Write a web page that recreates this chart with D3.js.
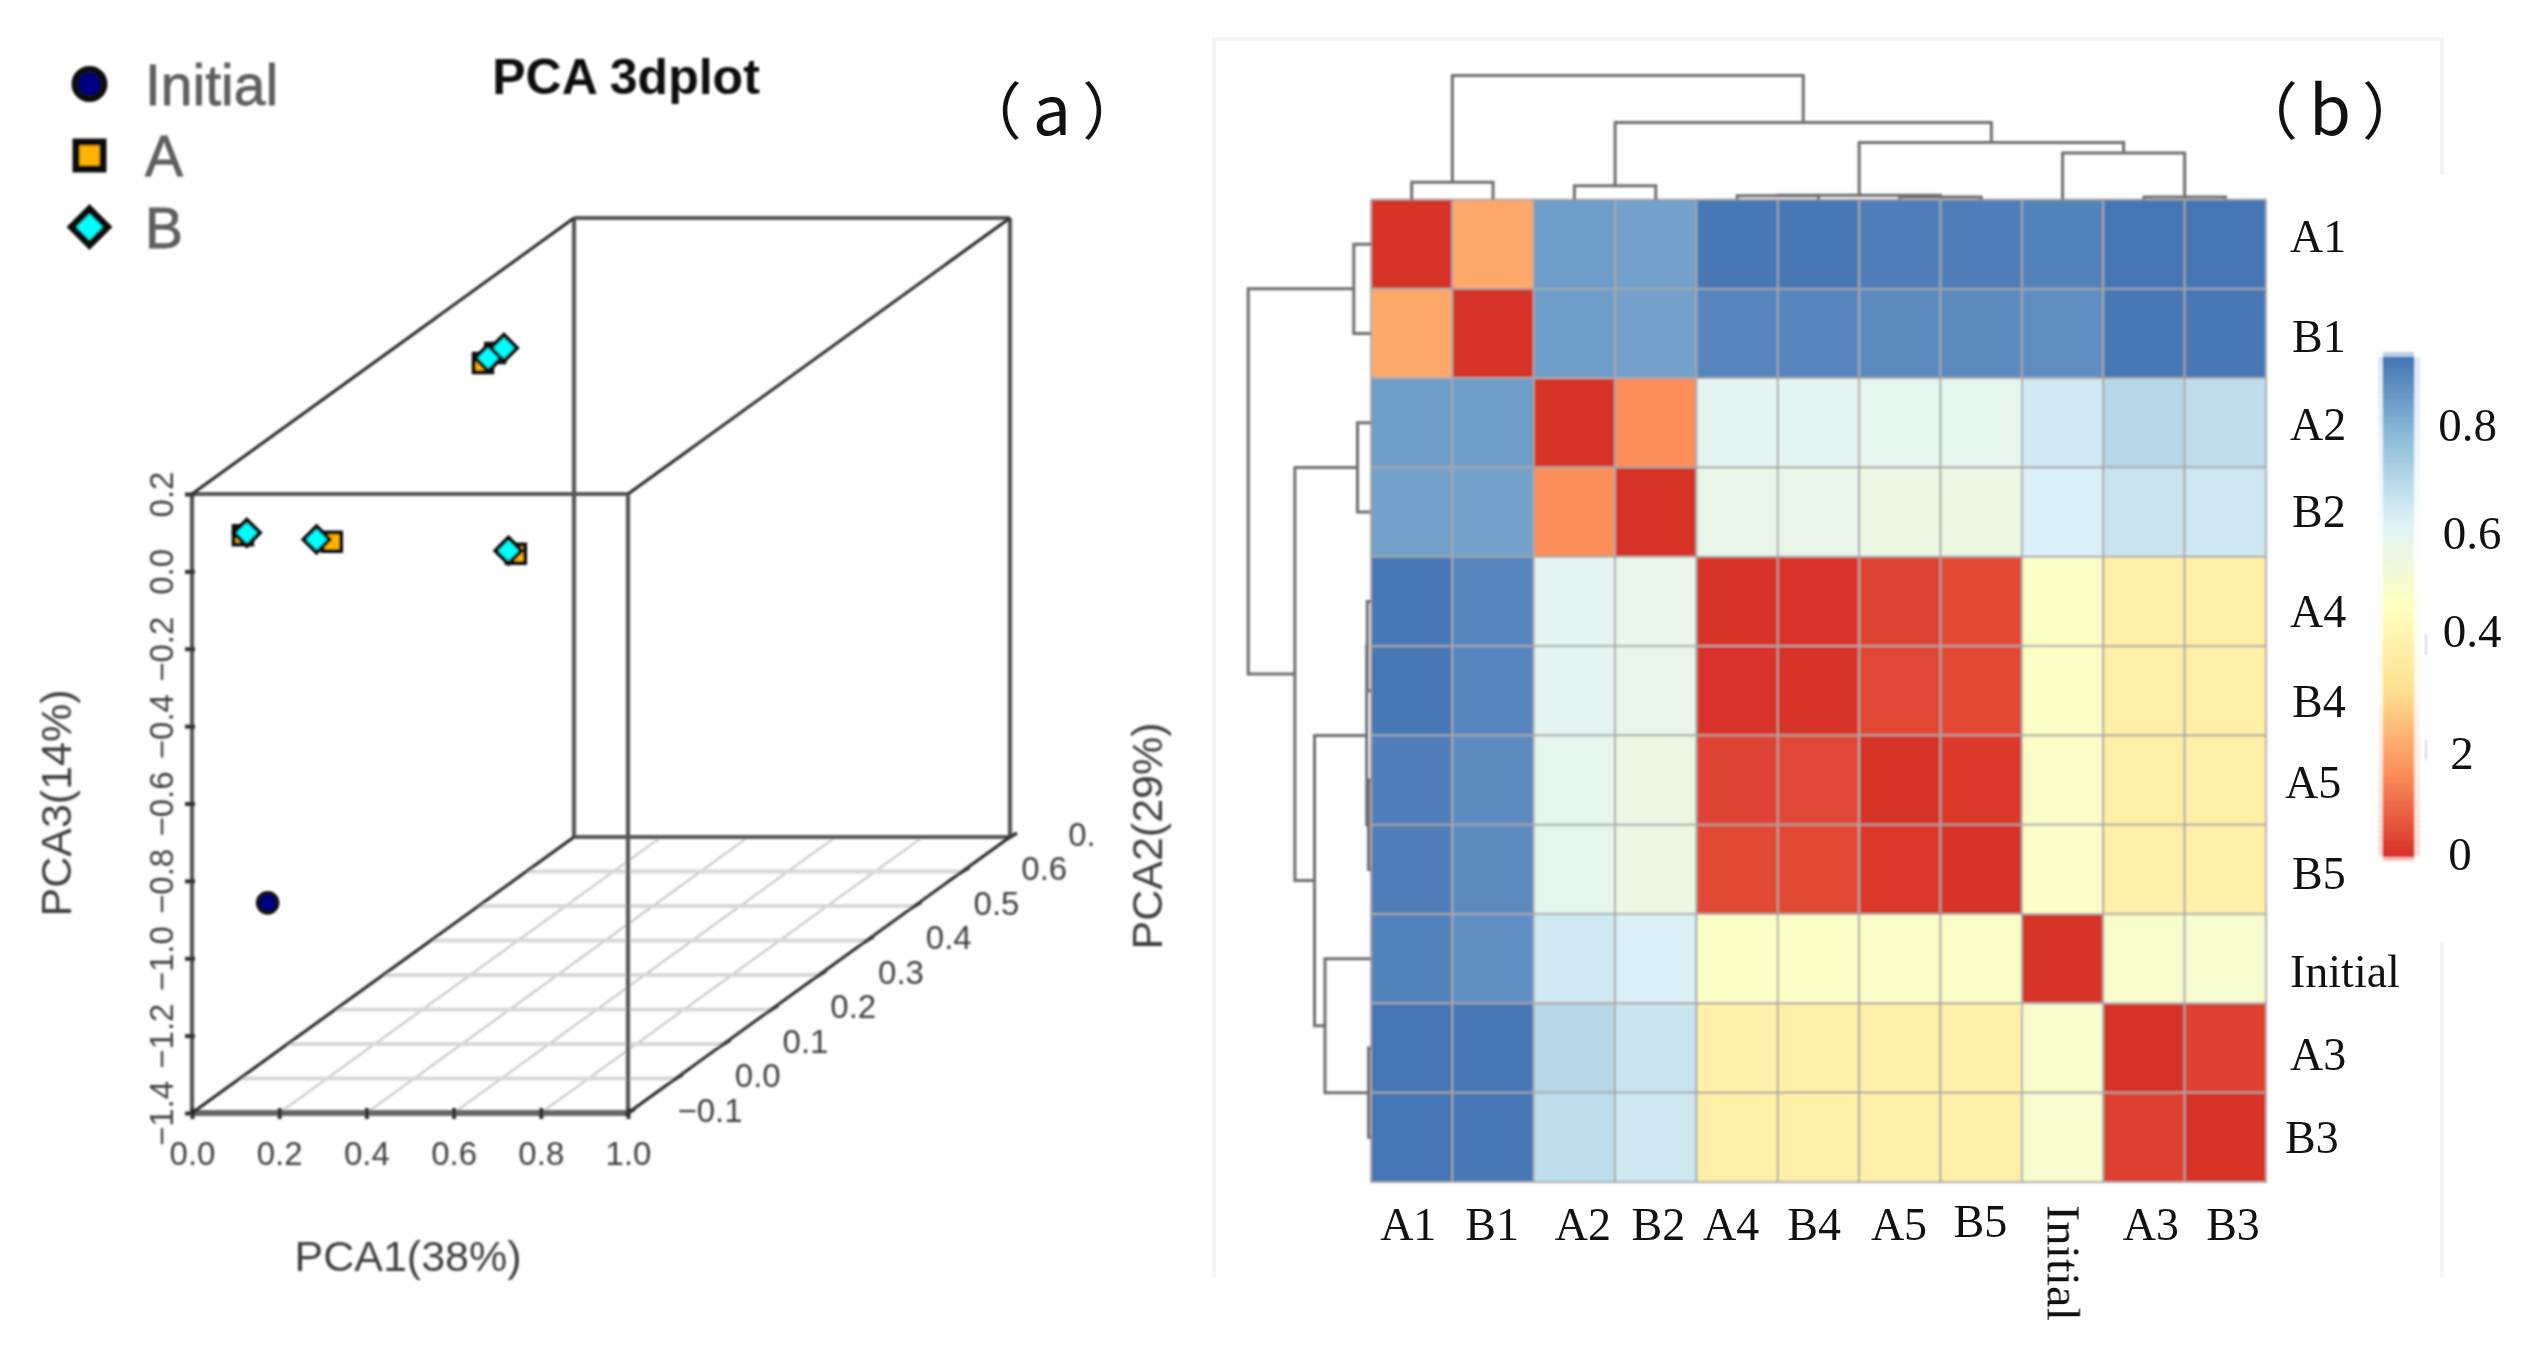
<!DOCTYPE html>
<html><head><meta charset="utf-8">
<script src="https://cdn.jsdelivr.net/npm/d3@7"></script>
<style>html,body{margin:0;padding:0;background:#fff}svg{display:block}text{text-spacing-trim:space-all}</style>
</head><body><svg id="c" width="2538" height="1356"></svg>
<script>
// ---- data: PCA panel
const pointGroup=["Initial","A","A","A","A","A","B","B","B","B","B"];
const pca1=[0.064,0.065,0.093,0.062,0.266,0.688,0.077,0.113,0.071,0.231,0.671];
const pca2=[0,0.45,0.45,-0.05,-0.05,-0.05,0.45,0.45,-0.05,-0.05,-0.05];
const pca3=[-0.946,0.048,0.074,0.049,0.032,0.001,0.061,0.087,0.055,0.038,0.009];
const legendItems=["Initial","A","B"];
const xTicks=[0,0.2,0.4,0.6,0.8,1];
const yTicks=[-0.1,0,0.1,0.2,0.3,0.4,0.5,0.6,0.7];
const yTickLabels=["\u22120.1","0.0","0.1","0.2","0.3","0.4","0.5","0.6","0."];
const zTicks=[0.2,0,-0.2,-0.4,-0.6,-0.8,-1,-1.2,-1.4];
const zTickLabels=["0.2","0.0","\u22120.2","\u22120.4","\u22120.6","\u22120.8","\u22121.0","\u22121.2","\u22121.4"];
// ---- data: heatmap panel
const colLabels=["A1","B1","A2","B2","A4","B4","A5","B5","Initial","A3","B3"];
const rowLabels=colLabels;
const rowA1=[0,.21,.865,.855,.945,.945,.93,.93,.92,.95,.95];
const rowB1=[.21,0,.865,.855,.915,.915,.905,.905,.895,.945,.945];
const rowA2=[.865,.865,0,.16,.615,.615,.605,.605,.665,.72,.70];
const rowB2=[.855,.855,.16,0,.595,.595,.575,.575,.645,.68,.67];
const rowA4=[.945,.915,.615,.595,0,.005,.03,.045,.495,.4,.395];
const rowB4=[.945,.915,.615,.595,.005,0,.04,.045,.495,.395,.395];
const rowA5=[.93,.905,.605,.575,.03,.04,0,.015,.5,.395,.4];
const rowB5=[.93,.905,.605,.575,.045,.045,.015,0,.5,.4,.4];
const rowInitial=[.92,.895,.665,.645,.495,.495,.5,.5,0,.515,.52];
const rowA3=[.95,.945,.72,.68,.4,.395,.395,.4,.515,0,.025];
const rowB3=[.95,.945,.70,.67,.395,.395,.4,.4,.52,.025,0];
const matrix=[rowA1,rowB1,rowA2,rowB2,rowA4,rowB4,rowA5,rowB5,rowInitial,rowA3,rowB3];
// merges: [left node, right node, height]; leaves are 0-10, merged nodes number on from 11
const merges=[[0,1,.14],[2,3,.11],[4,5,.03],[6,7,.02],[13,14,.035],[9,10,.02],[8,16,.375],[15,17,.46],[12,18,.62],[11,19,1]];
const legendTicks=[0,0.2,0.4,0.6,0.8];
const legendTickLabels=["0","2","0.4","0.6","0.8"];
const paletteStops=["#D73027","#FC8D59","#FEE090","#FFFFBF","#E0F3F8","#91BFDB","#4575B4"];

// ---- layout
const svg=d3.select("#c");
const defs=svg.append("defs");
const mkBlur=(id,s)=>defs.append("filter").attr("id",id).attr("filterUnits","userSpaceOnUse").attr("x",0).attr("y",0).attr("width",2538).attr("height",1356)
  .append("feGaussianBlur").attr("stdDeviation",s);
mkBlur("blurA",1.3);mkBlur("blurB",0.9);

// ---- Panel (a)
const A=svg.append("g").attr("filter","url(#blurA)");
const sans="'Liberation Sans',Arial,sans-serif";
const xS=d3.scaleLinear().domain([0,1]).range([192,628]);
const zS=d3.scaleLinear().domain([-1.4,0.2]).range([1113,494]);
const dxS=d3.scaleLinear().domain([-0.1,0.7]).range([0,382]);
const dyS=d3.scaleLinear().domain([-0.1,0.7]).range([0,-276]);
const P=(x,y,z)=>[xS(x)+dxS(y),zS(z)+dyS(y)];
const line=d3.line();
const seg=(g,a,b,col,w)=>g.append("path").attr("d",line([a,b])).attr("stroke",col).attr("stroke-width",w).attr("fill","none");
// floor grid
xTicks.slice(1,-1).forEach(v=>seg(A,P(v,-0.1,-1.4),P(v,0.7,-1.4),"#c4c4c4",2));
yTicks.slice(1,-1).forEach(v=>seg(A,P(0,v,-1.4),P(1,v,-1.4),"#d8d8d8",4));
// cube: edges along the box faces, then the receding diagonals
const ec="#575757", ew=4.2;
[[[0,.7,-1.4],[0,.7,.2]],[[0,.7,.2],[1,.7,.2]],[[1,.7,.2],[1,.7,-1.4]],[[1,.7,-1.4],[0,.7,-1.4]],
 [[0,-.1,.2],[1,-.1,.2]],[[0,-.1,.2],[0,-.1,-1.4]],[[1,-.1,.2],[1,-.1,-1.4]]]
 .forEach(s=>seg(A,P(...s[0]),P(...s[1]),ec,ew));
seg(A,P(0,-.1,-1.4),P(1,-.1,-1.4),"#666",6);
[[[0,-.1,.2],[0,.7,.2]],[[1,-.1,.2],[1,.7,.2]],[[0,-.1,-1.4],[0,.7,-1.4]],[[1,-.1,-1.4],[1,.7,-1.4]]]
 .forEach(s=>seg(A,P(...s[0]),P(...s[1]),"#262626",3));
// axes
const axisCol="#3f3f3f", tickCol="#333";
const xAxis=A.append("g").attr("transform","translate(0,1113)")
  .call(d3.axisBottom(xS).tickValues(xTicks).tickFormat(d3.format(".1f")).tickSize(6).tickPadding(23));
const zAxis=A.append("g").attr("transform","translate(192,0)")
  .call(d3.axisLeft(zS).tickValues(zTicks).tickFormat((d,i)=>zTickLabels[i]).tickSize(7).tickPadding(9));
[xAxis,zAxis].forEach(g=>{g.select(".domain").remove();g.selectAll("line").attr("stroke",tickCol).attr("stroke-width",4);
  g.selectAll("text").attr("font-family",sans).attr("font-size",33).attr("fill",axisCol);});
xAxis.selectAll("line").attr("y1",-5);
zAxis.selectAll("line").attr("x2",-7).attr("x1",3);
zAxis.selectAll("text").attr("text-anchor","middle").attr("x",0).attr("y",0).attr("dy",".36em")
  .attr("transform","translate(-31,0) rotate(-90)");
yTicks.forEach((v,i)=>{
  const p=P(1,v,-1.4);
  A.append("line").attr("x1",p[0]-3).attr("y1",p[1]+2).attr("x2",p[0]+7).attr("y2",p[1]-4).attr("stroke",tickCol).attr("stroke-width",3.5);
  A.append("text").attr("x",p[0]+(i==8?72:82)).attr("y",p[1]-3).attr("dy",".36em").attr("text-anchor","middle")
    .attr("font-family",sans).attr("font-size",33).attr("fill",axisCol).text(yTickLabels[i]);
});
const axT=(t,x,y,r)=>A.append("text").attr("transform",`translate(${x},${y}) rotate(${r})`).attr("text-anchor","middle").attr("dy",".36em")
  .attr("font-family",sans).attr("font-size",43).attr("fill","#3f3f3f").text(t);
axT("PCA1(38%)",408,1256,0);axT("PCA3(14%)",56,803,-90);axT("PCA2(29%)",1147,836,-90);
A.append("text").attr("x",626).attr("y",76).attr("dy",".36em").attr("text-anchor","middle").attr("font-family",sans).attr("font-weight","bold")
  .attr("font-size",50).attr("fill","#111").text("PCA 3dplot");
// markers (larger in the legend)
const sym={
  Initial:{t:d3.symbolCircle,a:[300,660],f:"#000080",r:0},
  A:{t:d3.symbolSquare,a:[340,729],f:"#FFB300",r:0},
  B:{t:d3.symbolSquare,a:[340,650],f:"#00FFFF",r:45}};
const drawMark=(g,grp,x,y,big)=>{const s=sym[grp];
  g.append("path").attr("d",d3.symbol().type(s.t).size(s.a[big?1:0])()).attr("transform",`translate(${x},${y}) rotate(${s.r})`)
   .attr("fill",s.f).attr("stroke","#111").attr("stroke-width",big?7:4);};
pointGroup.forEach((g,i)=>{if(g==="A"){const p=P(pca1[i],pca2[i],pca3[i]);drawMark(A,g,p[0],p[1],false);}});
pointGroup.forEach((g,i)=>{if(g!=="A"){const p=P(pca1[i],pca2[i],pca3[i]);drawMark(A,g,p[0],p[1],false);}});
const legY=d3.scalePoint().domain(legendItems).range([84,227]);
legendItems.forEach(n=>{drawMark(A,n,89.5,legY(n),true);
  A.append("text").attr("x",145).attr("y",legY(n)).attr("dy",".36em").attr("font-family",sans).attr("font-size",57)
   .attr("fill","#5f5f5f").attr("stroke","#5f5f5f").attr("stroke-width",.8).text(n);});

// panel tags
const cjk="'Noto Sans CJK SC','Noto Sans',sans-serif";
const tag=(cx,letter)=>{
  const t=svg.append("g").attr("transform",`translate(${cx},113)`).append("text").attr("text-anchor","middle").attr("dy",".36em")
    .attr("font-family",cjk).attr("font-size",62).attr("fill","#111");
  t.append("tspan").text("\uFF08");
  t.append("tspan").attr("dx",11).attr("font-size",68).text(letter);
  t.append("tspan").attr("dx",11).text("\uFF09");
};
tag(1052,"a");
// frame of panel b
const fr=svg.append("g").attr("stroke","#f4f4f4").attr("stroke-width",4).attr("fill","none");
fr.append("path").attr("d","M1214,1277V39H2442V174");
fr.append("path").attr("d","M2442,942V1277");
tag(2330,"b");

// ---- Panel (b)
const B=svg.append("g").attr("filter","url(#blurB)");
const serif="'Liberation Serif','Times New Roman',serif";
const cX=d3.scaleBand().domain(d3.range(11)).range([1371,2266]);
const cY=d3.scaleBand().domain(d3.range(11)).range([199.5,1182]);
const maxV=0.95;
const color=d3.scaleLinear().domain(paletteStops.map((_,i)=>i/6*maxV)).range(paletteStops);
matrix.forEach((row,r)=>row.forEach((v,c)=>{
  B.append("rect").attr("x",cX(c)).attr("y",cY(r)).attr("width",cX.bandwidth()).attr("height",cY.bandwidth())
   .attr("fill",color(v)).attr("stroke","#a8a8a8").attr("stroke-width",1.8);
}));
// dendrograms
const treeLen=d3.scaleLinear().domain([0,1]).range([0,124]);
function layout(centre){
  const pos=d3.range(11).map(centre), h=d3.range(11).map(()=>0);
  const segs=[];
  merges.forEach(([a,b,ht])=>{segs.push([pos[a],h[a],pos[b],h[b],ht]);pos.push((pos[a]+pos[b])/2);h.push(ht);});
  return segs;
}
const dc="#6e6e6e",dw=3;
layout(i=>cX(i)+cX.bandwidth()/2).forEach(([p,hp,q,hq,ht])=>{
  const y=v=>199.5-treeLen(v);
  B.append("path").attr("d",`M${p},${y(hp)}V${y(ht)}H${q}V${y(hq)}`).attr("fill","none").attr("stroke",dc).attr("stroke-width",dw);
});
layout(i=>cY(i)+cY.bandwidth()/2).forEach(([p,hp,q,hq,ht])=>{
  const x=v=>1371-treeLen(v)*0.99;
  B.append("path").attr("d",`M${x(hp)},${p}H${x(ht)}V${q}H${x(hq)}`).attr("fill","none").attr("stroke",dc).attr("stroke-width",dw);
});
// colour key
const keyY=d3.scaleLinear().domain([0,maxV]).range([856,357]);
d3.range(0,100).forEach(i=>{const v=i/100*maxV,v2=(i+1)/100*maxV;
  B.append("rect").attr("x",2378).attr("width",42).attr("y",keyY(v2)).attr("height",keyY(v)-keyY(v2)+.7).attr("fill",color((v+v2)/2)).attr("opacity",.16);
  B.append("rect").attr("x",2383).attr("width",31).attr("y",keyY(v2)).attr("height",keyY(v)-keyY(v2)+.7).attr("fill",color((v+v2)/2));});
B.append("rect").attr("x",2383).attr("width",31).attr("y",352).attr("height",5).attr("fill",color(maxV)).attr("opacity",.35);
B.append("rect").attr("x",2383).attr("width",31).attr("y",856).attr("height",5).attr("fill",color(0)).attr("opacity",.3);
[0.2,0.4].forEach(v=>B.append("line").attr("x1",2426).attr("x2",2426).attr("y1",keyY(v)-11).attr("y2",keyY(v)+9).attr("stroke","#d4d4d4").attr("stroke-width",2));
// serif labels
const T=svg.append("g").attr("font-family",serif).attr("font-size",46).attr("fill","#111");
const rowNudge=[[0,-7],[2,3],[0,2],[2,0],[0,10],[2,11],[-5,3],[2,4],[0,13],[0,7],[-5,0]];
rowLabels.forEach((t,i)=>T.append("text").attr("x",2290+rowNudge[i][0]).attr("y",cY(i)+cY.bandwidth()/2+rowNudge[i][1]).attr("dy",".33em").text(t));
const colNudge=[-4,-1,10,3,-7,-5,-1,-1,0,8,9];
const colYNudge=[0,0,0,0,0,0,0,-3,0,0,0];
colLabels.forEach((t,i)=>{const x=cX(i)+cX.bandwidth()/2+colNudge[i]*.858;
  if(t==="Initial"){T.append("text").attr("transform",`translate(${x},1205) rotate(90)`).attr("dy",".33em").attr("textLength",116).attr("lengthAdjust","spacingAndGlyphs").text(t);}
  else T.append("text").attr("x",x).attr("y",1225+colYNudge[i]).attr("dy",".33em").attr("text-anchor","middle").text(t);
});
const keyNudge=[[2460,14],[2462,18],[2472,1],[2472,8],[2467.5,5]];
legendTicks.forEach((v,i)=>T.append("text").attr("x",keyNudge[i][0]).attr("y",keyY(v)+keyNudge[i][1]).attr("text-anchor","middle").attr("font-size",47).text(legendTickLabels[i]));
</script></body></html>
